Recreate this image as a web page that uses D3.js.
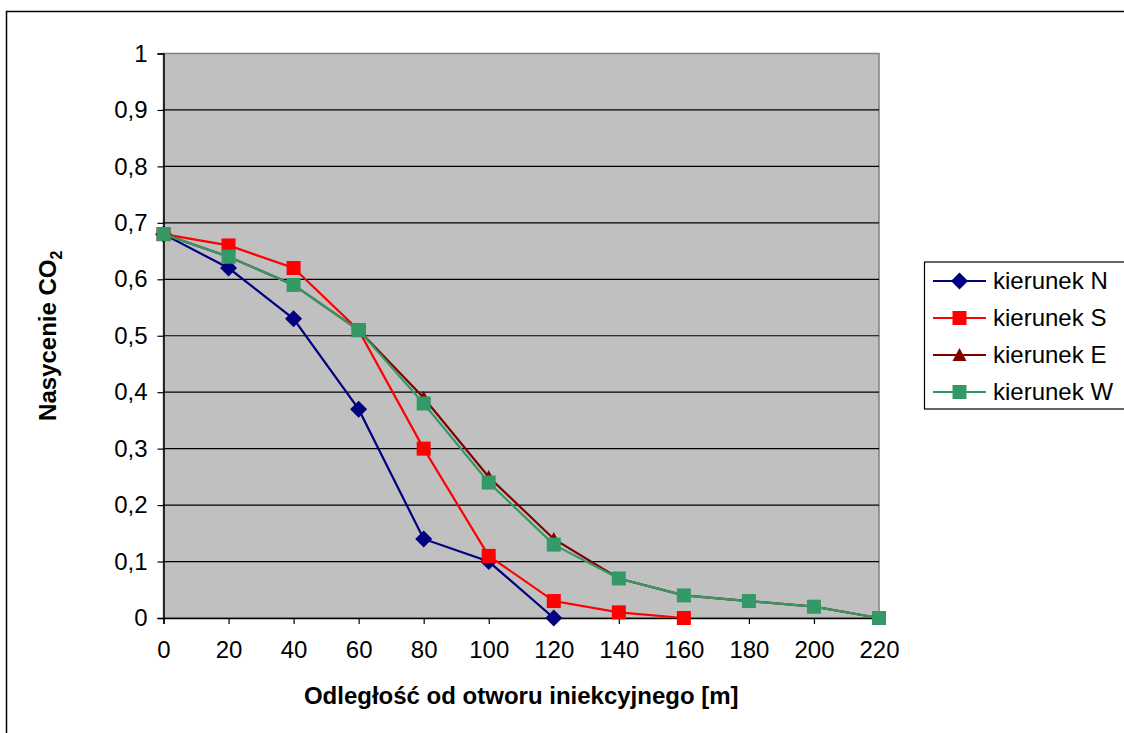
<!DOCTYPE html>
<html>
<head>
<meta charset="utf-8">
<script src="https://cdn.jsdelivr.net/npm/d3@7"></script>
<style>
  html, body { margin: 0; padding: 0; background: #fff; }
  svg { display: block; font-family: "Liberation Sans", Arial, sans-serif; }
</style>
</head>
<body>
<svg id="chart" width="1124" height="733"></svg>
<script>
// Distance from the injection well [m]
const distances = [0, 20, 40, 60, 80, 100, 120, 140, 160, 180, 200, 220];
const xTicks = [0, 20, 40, 60, 80, 100, 120, 140, 160, 180, 200, 220];
const yTicks = [0, 0.1, 0.2, 0.3, 0.4, 0.5, 0.6, 0.7, 0.8, 0.9, 1];

// CO2 saturation per direction
const satN = [0.68, 0.62, 0.53, 0.37, 0.14, 0.10, 0];
const satS = [0.68, 0.66, 0.62, 0.51, 0.30, 0.11, 0.03, 0.01, 0];
const satE = [0.68, 0.64, 0.59, 0.51, 0.39, 0.25, 0.14, 0.07, 0.04, 0.03, 0.02, 0];
const satW = [0.68, 0.64, 0.59, 0.51, 0.38, 0.24, 0.13, 0.07, 0.04, 0.03, 0.02, 0];

const seriesNames = ["kierunek N", "kierunek S", "kierunek E", "kierunek W"];
const seriesColors = ["#000080", "#ff0000", "#800000", "#339966"];
const seriesMarkers = ["diamond", "square", "triangle", "square"];
const seriesValues = [satN, satS, satE, satW];

const series = seriesNames.map((name, i) => ({
  name,
  color: seriesColors[i],
  marker: seriesMarkers[i],
  points: seriesValues[i].map((v, j) => ({ x: distances[j], y: v }))
}));

const FONT = "'Liberation Sans', Arial, sans-serif";
const FS = 24;
const svg = d3.select("#chart");

// Outer chart frame
svg.append("rect")
  .attr("x", 6.5).attr("y", 11.5)
  .attr("width", 1130).attr("height", 740)
  .attr("fill", "#fff").attr("stroke", "#000").attr("stroke-width", 1.5);

const plot = { left: 163.5, right: 879, top: 53.5, bottom: 618 };

const x = d3.scaleLinear().domain([0, 220]).range([plot.left, plot.right]);
const y = d3.scaleLinear().domain([0, 1]).range([plot.bottom, plot.top]);

// Plot background
svg.append("rect")
  .attr("x", plot.left).attr("y", plot.top)
  .attr("width", plot.right - plot.left).attr("height", plot.bottom - plot.top)
  .attr("fill", "#c0c0c0").attr("stroke", "#808080").attr("stroke-width", 1.5);

// Horizontal gridlines
svg.append("g")
  .selectAll("line")
  .data(yTicks.filter(t => t > 0 && t < 1))
  .join("line")
  .attr("x1", plot.left).attr("x2", plot.right)
  .attr("y1", d => y(d)).attr("y2", d => y(d))
  .attr("stroke", "#000").attr("stroke-width", 1.2);

const fmt = d => String(d3.format(".1~f")(d)).replace(".", ",");

// Y axis
const yAxis = svg.append("g")
  .attr("transform", `translate(${plot.left},0)`)
  .call(d3.axisLeft(y).tickValues(yTicks).tickFormat(fmt).tickSize(6).tickPadding(10));
yAxis.attr("font-size", FS).attr("font-family", FONT);
yAxis.select(".domain").attr("stroke", "#000").attr("stroke-width", 1.5);
yAxis.selectAll(".tick line").attr("stroke", "#000").attr("stroke-width", 1.2);
yAxis.selectAll(".tick text").attr("fill", "#000");

// X axis
const xAxis = svg.append("g")
  .attr("transform", `translate(0,${plot.bottom})`)
  .call(d3.axisBottom(x).tickValues(xTicks).tickFormat(d3.format("d")).tickSize(6).tickPadding(17));
xAxis.attr("font-size", FS).attr("font-family", FONT);
xAxis.select(".domain").attr("stroke", "#000").attr("stroke-width", 1.5);
xAxis.selectAll(".tick line").attr("stroke", "#000").attr("stroke-width", 1.2);
xAxis.selectAll(".tick text").attr("fill", "#000");

// Axis titles
svg.append("text")
  .attr("x", (plot.left + plot.right) / 2).attr("y", 704)
  .attr("text-anchor", "middle")
  .attr("font-family", FONT)
  .attr("font-size", FS).attr("font-weight", "bold")
  .text("Odległość od otworu iniekcyjnego [m]");

const yTitle = svg.append("text")
  .attr("transform", `translate(56,${(plot.top + plot.bottom) / 2}) rotate(-90)`)
  .attr("text-anchor", "middle")
  .attr("font-family", FONT)
  .attr("font-size", FS).attr("font-weight", "bold");
yTitle.append("tspan").text("Nasycenie CO");
yTitle.append("tspan").attr("font-size", 16).attr("dy", 6).text("2");

// Marker shapes
function markerPath(type) {
  if (type === "diamond") return "M0,-8.5L8.5,0L0,8.5L-8.5,0Z";
  if (type === "triangle") return "M0,-7L7,6L-7,6Z";
  return "M-7,-7H7V7H-7Z";
}

const line = d3.line().x(d => x(d.x)).y(d => y(d.y));

const lines = svg.append("g");
series.forEach(s => {
  const g = lines.append("g");
  g.append("path")
    .datum(s.points)
    .attr("d", line)
    .attr("fill", "none")
    .attr("stroke", s.color)
    .attr("stroke-width", 2.2);
  g.selectAll("path.m")
    .data(s.points)
    .join("path")
    .attr("class", "m")
    .attr("transform", d => `translate(${x(d.x)},${y(d.y)})`)
    .attr("d", markerPath(s.marker))
    .attr("fill", s.color);
});

// Legend
const legend = svg.append("g").attr("font-family", FONT);
legend.append("rect")
  .attr("x", 924.5).attr("y", 262)
  .attr("width", 220).attr("height", 147)
  .attr("fill", "#fff").attr("stroke", "#000").attr("stroke-width", 1.2);

series.forEach((s, i) => {
  const ly = 281 + i * 37;
  const g = legend.append("g");
  g.append("line")
    .attr("x1", 933).attr("x2", 986)
    .attr("y1", ly).attr("y2", ly)
    .attr("stroke", s.color).attr("stroke-width", 2.2);
  g.append("path")
    .attr("transform", `translate(959.5,${ly})`)
    .attr("d", markerPath(s.marker))
    .attr("fill", s.color);
  g.append("text")
    .attr("x", 993).attr("y", ly + 8)
    .attr("font-size", FS)
    .text(s.name);
});
</script>
</body>
</html>
